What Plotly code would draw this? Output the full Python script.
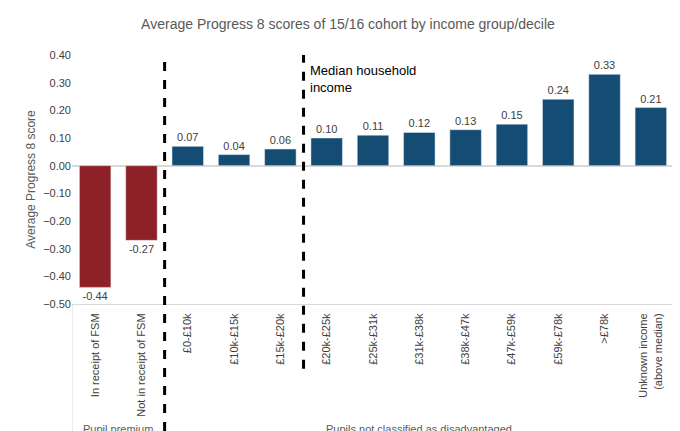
import plotly.graph_objects as go

categories = ["In receipt of FSM", "Not in receipt of FSM", "£0-£10k", "£10k-£15k", "£15k-£20k",
              "£20k-£25k", "£25k-£31k", "£31k-£38k", "£38k-£47k", "£47k-£59k", "£59k-£78k",
              ">£78k", "Unknown income<br>(above median)"]
scores = [-0.44, -0.27, 0.07, 0.04, 0.06, 0.10, 0.11, 0.12, 0.13, 0.15, 0.24, 0.33, 0.21]
groups = ["Pupil premium", "Pupils not classified as disadvantaged"]

colors = ["#8e2127"] * 2 + ["#154c74"] * 11
fig = go.Figure()
fig.add_trace(go.Bar(
    x=list(range(len(categories))), y=scores, marker_color=colors, width=0.68,
    text=[f"{v:.2f}" for v in scores], textposition="outside",
    textfont=dict(size=11, color="#404040"), cliponaxis=False,
))

fig.update_layout(
    width=680, height=431,
    margin=dict(l=64, r=14, t=47, b=135),
    paper_bgcolor="white", plot_bgcolor="white",
    font=dict(family="Liberation Sans, Arial", color="#595959", size=11),
    title=dict(text="Average Progress 8 scores of 15/16 cohort by income group/decile",
               x=0.5, y=0.975, xanchor="center", font=dict(size=14, color="#595959")),
    showlegend=False,
    xaxis=dict(range=[-0.5, 12.5], tickmode="array", tickvals=list(range(len(categories))),
               ticktext=categories, tickangle=-90, showline=True, linecolor="#d9d9d9",
               ticks="", showgrid=False, automargin=False, ticklabelstandoff=4,
               tickfont=dict(size=11, color="#404040")),
    yaxis=dict(range=[-0.5, 0.4], dtick=0.1, tickformat=".2f", showgrid=False,
               zeroline=True, zerolinecolor="#d9d9d9", showline=False, automargin=False,
               title=dict(text="Average Progress 8 score", font=dict(size=12, color="#595959"), standoff=4),
               tickfont=dict(size=11, color="#404040")),
)

# dashed separators
fig.add_shape(type="line", xref="x", yref="paper", x0=1.5, x1=1.5, y0=-0.51, y1=1.0,
              line=dict(color="black", width=3, dash="dash"))
fig.add_shape(type="line", xref="x", yref="paper", x0=4.5, x1=4.5, y0=-0.26, y1=1.0,
              line=dict(color="black", width=3, dash="dash"))
# left frame under axis
fig.add_shape(type="line", xref="x", yref="paper", x0=-0.5, x1=-0.5, y0=-0.51, y1=0,
              line=dict(color="#d9d9d9", width=1))

fig.add_annotation(x=0.5, xref="x", y=-0.5, yref="paper", text=groups[0], showarrow=False,
                   font=dict(size=11, color="#595959"), yanchor="middle")
fig.add_annotation(x=7.0, xref="x", y=-0.5, yref="paper", text=groups[1], showarrow=False,
                   font=dict(size=11, color="#595959"), yanchor="middle")
fig.add_annotation(x=4.6, xref="x", y=0.38, yref="y", text="Median household<br>income",
                   showarrow=False, xanchor="left", yanchor="top", align="left",
                   font=dict(size=13, color="black"))

fig.write_html("out.html")
